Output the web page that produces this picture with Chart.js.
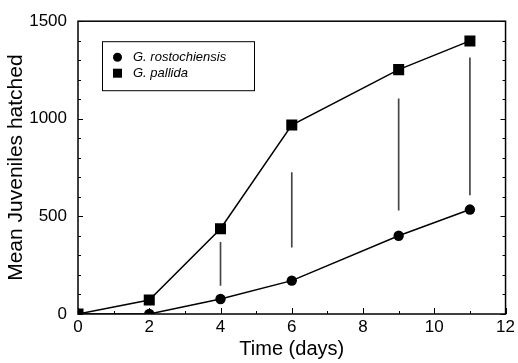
<!DOCTYPE html>
<html>
<head>
<meta charset="utf-8">
<script src="https://cdn.jsdelivr.net/npm/chart.js@4/dist/chart.umd.min.js"></script>
<style>
  html, body { margin: 0; padding: 0; background: #fff; }
  #wrap { width: 518px; height: 363px; }
</style>
</head>
<body>
<div id="wrap"><canvas id="c" width="518" height="363"></canvas></div>
<script>
// ---- data ----
const days = [0, 2, 4, 6, 9, 11];
const rostochiensis = [0, 0, 77, 171, 401, 535];
const pallida = [0, 72, 437, 968, 1252, 1399];
// thin vertical bars (low / high ends)
const barDays = [4, 6, 9, 11];
const barLow = [146, 342, 532, 610];
const barHigh = [367, 725, 1102, 1312];
const xTicks = [0, 2, 4, 6, 8, 10, 12];
const yTicks = [0, 500, 1000, 1500];
const seriesNames = ['G. rostochiensis', 'G. pallida'];

const FONT = "'Liberation Sans', Arial, Helvetica, sans-serif";

const toPts = (xs, ys) => xs.map((x, i) => ({ x: x, y: ys[i] }));

const frameAndTicks = {
  id: 'frameAndTicks',
  afterDatasetsDraw(chart) {
    const ctx = chart.ctx;
    const a = chart.chartArea;
    const xs = chart.scales.x, ys = chart.scales.y;
    ctx.save();
    ctx.strokeStyle = '#000';
    ctx.lineWidth = 1.5;
    ctx.strokeRect(a.left, a.top, a.right - a.left, a.bottom - a.top);
    ctx.lineWidth = 1;
    ctx.beginPath();
    for (let v = ys.min; v <= ys.max; v += 100) {
      const p = Math.round(ys.getPixelForValue(v)) + 0.5;
      const len = (v % 500 === 0) ? 5 : 3;
      ctx.moveTo(a.left, p); ctx.lineTo(a.left + len, p);
      ctx.moveTo(a.right, p); ctx.lineTo(a.right - len, p);
    }
    for (let v = xs.min; v <= xs.max; v += 1) {
      const p = Math.round(xs.getPixelForValue(v)) + 0.5;
      const len = (v % 2 === 0) ? 6 : 3;
      ctx.moveTo(p, a.bottom); ctx.lineTo(p, a.bottom - len);
    }
    ctx.stroke();
    ctx.restore();
  }
};

const boxLegend = {
  id: 'boxLegend',
  afterDraw(chart) {
    const ctx = chart.ctx;
    const a = chart.chartArea;
    const x0 = a.left + 24, y0 = a.top + 20, w = 152, h = 49;
    ctx.save();
    ctx.strokeStyle = '#000';
    ctx.lineWidth = 1;
    ctx.strokeRect(x0 + 0.5, y0 + 0.5, w, h);
    ctx.font = 'italic 13px ' + FONT;
    ctx.textBaseline = 'middle';
    ctx.fillStyle = '#000';
    const styles = ['circle', 'rect'];
    seriesNames.forEach((name, i) => {
      const cy = y0 + 16 + i * 16;
      const cx = x0 + 15.5;
      ctx.beginPath();
      if (styles[i] === 'circle') {
        ctx.arc(cx, cy, 4.5, 0, Math.PI * 2);
      } else {
        ctx.rect(cx - 4.5, cy - 4.5, 9, 9);
      }
      ctx.fill();
      ctx.fillText(name, x0 + 31, cy);
    });
    ctx.restore();
  }
};

new Chart(document.getElementById('c'), {
  type: 'line',
  data: {
    datasets: [
      {
        type: 'line',
        label: seriesNames[0],
        data: toPts(days, rostochiensis),
        borderColor: '#000',
        backgroundColor: '#000',
        borderWidth: 1.5,
        pointStyle: 'circle',
        pointRadius: 5.2,
        pointBorderWidth: 0,
        tension: 0,
        order: 2
      },
      {
        type: 'line',
        label: seriesNames[1],
        data: toPts(days, pallida),
        borderColor: '#000',
        backgroundColor: '#000',
        borderWidth: 1.5,
        pointStyle: 'rect',
        pointRadius: 7.8,
        pointBorderWidth: 0,
        tension: 0,
        order: 1
      },
      {
        type: 'bar',
        label: 'bars',
        data: barDays.map((d, i) => ({ x: d, y: [barLow[i], barHigh[i]] })),
        backgroundColor: '#444',
        borderWidth: 0,
        barThickness: 1,
        order: 3
      }
    ]
  },
  options: {
    responsive: false,
    animation: false,
    devicePixelRatio: 1,
    layout: { padding: { left: 0, right: 10, top: 16, bottom: 0 } },
    plugins: { legend: { display: false }, tooltip: { enabled: false } },
    scales: {
      x: {
        type: 'linear',
        min: 0, max: 12,
        offset: false,
        afterBuildTicks: (s) => { s.ticks = xTicks.map(v => ({ value: v })); },
        afterFit: (s) => { s.height = 49; },
        grid: { display: false, drawTicks: false },
        border: { display: false },
        ticks: { color: '#000', font: { family: FONT, size: 17 }, padding: 3, maxRotation: 0, callback: (v) => String(v) },
        title: { display: true, text: 'Time (days)', color: '#000', font: { family: FONT, size: 20 }, padding: { top: 0, bottom: 2 } }
      },
      y: {
        type: 'linear',
        min: 0, max: 1500,
        afterBuildTicks: (s) => { s.ticks = yTicks.map(v => ({ value: v })); },
        afterFit: (s) => { s.width = 78; },
        grid: { display: false, drawTicks: false },
        border: { display: false },
        ticks: { color: '#000', font: { family: FONT, size: 17 }, padding: 11, callback: (v) => String(v) },
        title: { display: true, text: 'Mean Juveniles hatched', color: '#000', font: { family: FONT, size: 21 }, padding: { top: 4, bottom: 0 } }
      }
    }
  },
  plugins: [frameAndTicks, boxLegend]
});
</script>
</body>
</html>
